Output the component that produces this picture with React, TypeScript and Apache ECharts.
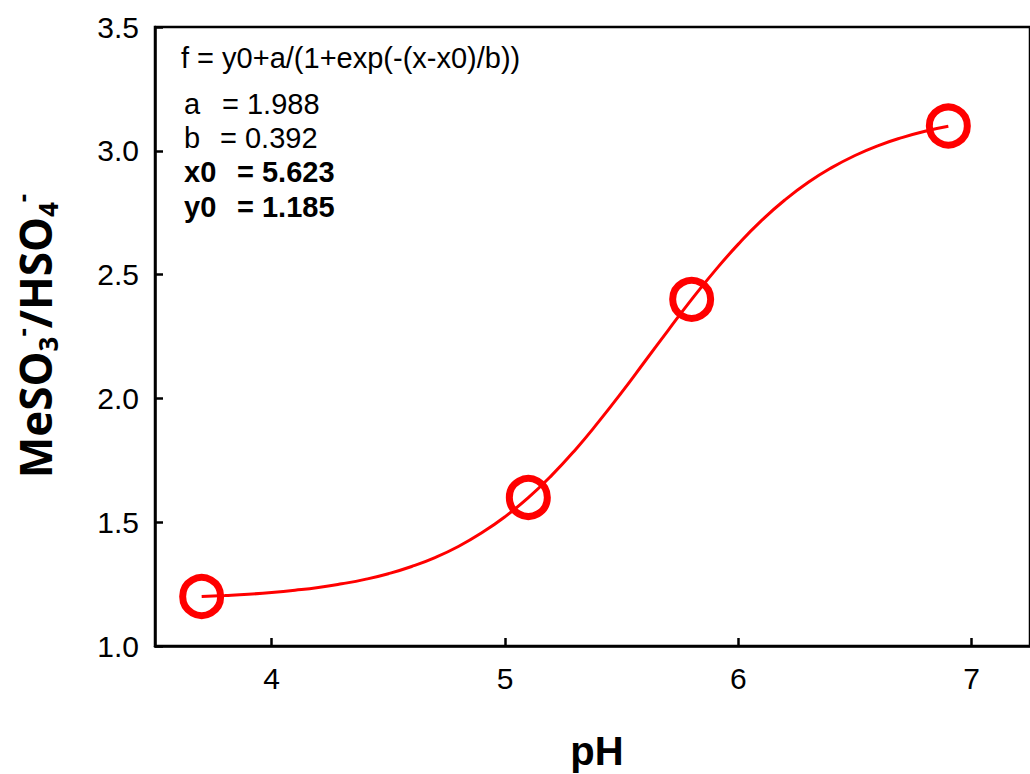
import React, { useEffect, useRef } from "react";
import * as echarts from "echarts";

// measured points
const pointsX = [3.7, 5.1, 5.8, 6.9];
const pointsY = [1.2, 1.6, 2.4, 3.1];

// fitted curve
const curveX = [3.7, 3.8, 3.9, 4.0, 4.1, 4.2, 4.3, 4.4, 4.5, 4.6, 4.7, 4.8, 4.9, 5.0, 5.1, 5.2, 5.3, 5.4, 5.5, 5.6, 5.7, 5.8, 5.9, 6.0, 6.1, 6.2, 6.3, 6.4, 6.5, 6.6, 6.7, 6.8, 6.9];
const curveY = [1.200, 1.204, 1.209, 1.216, 1.225, 1.236, 1.251, 1.269, 1.292, 1.321, 1.357, 1.402, 1.457, 1.522, 1.599, 1.689, 1.791, 1.904, 2.024, 2.150, 2.276, 2.400, 2.516, 2.623, 2.719, 2.802, 2.873, 2.932, 2.981, 3.021, 3.053, 3.079, 3.099];

const xTicks = [4, 5, 6, 7];

const fitLines = [
  { name: "a", value: "= 1.988", bold: false },
  { name: "b", value: "= 0.392", bold: false },
  { name: "x0", value: "= 5.623", bold: true },
  { name: "y0", value: "= 1.185", bold: true },
];
const formulaText = "f = y0+a/(1+exp(-(x-x0)/b))";

export default function App() {
  const ref = useRef<HTMLDivElement>(null);
  useEffect(() => {
    document.body.style.margin = "0";
    if (!ref.current) return;
    const chart = echarts.init(ref.current, null, { renderer: "svg" });
    const font = "'Liberation Sans', Arial, sans-serif";
    const lineYs = [104, 138, 172, 207];
    const valueXs = [222, 220, 237, 237];
    const graphics: any[] = [
      {
        type: "text",
        x: 181,
        y: 58,
        style: { text: formulaText, font: `29px ${font}`, fill: "#000", align: "left", verticalAlign: "middle" },
      },
    ];
    fitLines.forEach((l, i) => {
      const f = `${l.bold ? "bold " : ""}29px ${font}`;
      graphics.push({ type: "text", x: 184, y: lineYs[i], style: { text: l.name, font: f, fill: "#000", align: "left", verticalAlign: "middle" } });
      graphics.push({ type: "text", x: valueXs[i], y: lineYs[i], style: { text: l.value, font: f, fill: "#000", align: "left", verticalAlign: "middle" } });
    });
    graphics.push({
      type: "text",
      x: 35,
      y: 336,
      rotation: Math.PI / 2,
      style: {
        text: "{m|MeSO}{sub|3}{sup|-}{m|/HSO}{sub|4}{sup|-}",
        align: "center",
        verticalAlign: "middle",
        fill: "#000",
        rich: {
          m: { fontFamily: "'Open Sans', sans-serif", fontWeight: "bold", fontSize: 44, lineHeight: 52, verticalAlign: "middle" },
          sub: { fontFamily: "'Open Sans', sans-serif", fontWeight: "bold", fontSize: 26, lineHeight: 52, verticalAlign: "bottom" },
          sup: { fontFamily: "'Open Sans', sans-serif", fontWeight: "bold", fontSize: 26, lineHeight: 52, verticalAlign: "top" },
        },
      },
    });
    graphics.push({
      type: "text",
      x: 597,
      y: 751,
      style: { text: "pH", font: `bold 40px ${font}`, fill: "#000", align: "center", verticalAlign: "middle" },
    });

    chart.setOption({
      animation: false,
      grid: { left: 155, top: 27, bottom: 128, right: 0, show: true, borderColor: "#000", borderWidth: 2.5, backgroundColor: "transparent" },
      xAxis: {
        type: "value",
        min: 3.5,
        max: 7.25,
        axisLine: { show: true, onZero: false, lineStyle: { color: "#000", width: 2.5 } },
        axisTick: { show: true, inside: true, length: 8, customValues: xTicks, lineStyle: { color: "#000", width: 2.5 } },
        axisLabel: { customValues: xTicks, margin: 17, color: "#000", fontSize: 30, fontFamily: font },
        splitLine: { show: false },
      },
      yAxis: {
        type: "value",
        min: 1,
        max: 3.5,
        interval: 0.5,
        axisLine: { show: true, lineStyle: { color: "#000", width: 2.5 } },
        axisTick: { show: true, inside: true, length: 8, lineStyle: { color: "#000", width: 2.5 } },
        axisLabel: { margin: 16, color: "#000", fontSize: 30, fontFamily: font, formatter: (v: number) => v.toFixed(1) },
        splitLine: { show: false },
      },
      series: [
        {
          type: "line",
          data: curveX.map((x, i) => [x, curveY[i]]),
          smooth: true,
          showSymbol: false,
          lineStyle: { color: "#ff0000", width: 3 },
          z: 2,
        },
        {
          type: "scatter",
          data: pointsX.map((x, i) => [x, pointsY[i]]),
          symbol: "circle",
          symbolSize: 38,
          itemStyle: { color: "rgba(0,0,0,0)", borderColor: "#ff0000", borderWidth: 7, opacity: 1 },
          z: 3,
        },
      ],
      graphic: graphics,
    });
    return () => chart.dispose();
  }, []);
  return <div ref={ref} style={{ width: 1030, height: 774 }} />;
}
